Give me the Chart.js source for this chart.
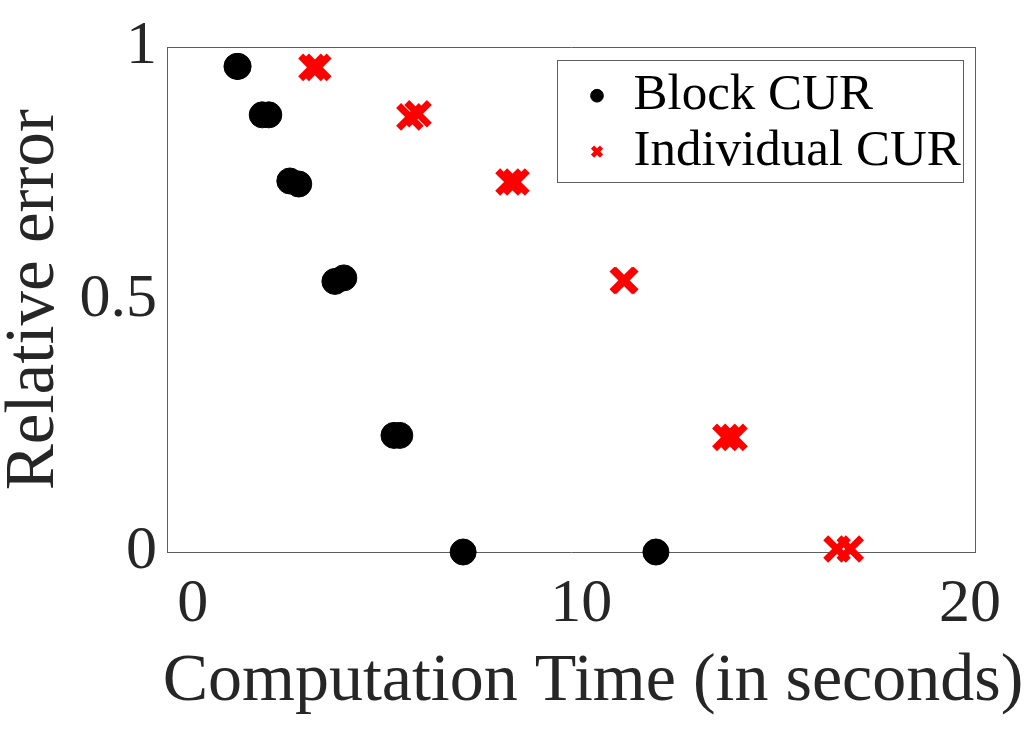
<!DOCTYPE html>
<html>
<head>
<meta charset="utf-8">
<script src="https://cdn.jsdelivr.net/npm/chart.js@4/dist/chart.umd.min.js"></script>
<style>
  html, body { margin: 0; padding: 0; background: #fff; }
  #wrap { width: 1035px; height: 733px; }
</style>
</head>
<body>
<div id="wrap"><canvas id="c" width="1035" height="733"></canvas></div>
<script>
// ---- data ----
const seriesNames = ['Block CUR', 'Individual CUR'];
const blockTime  = [1.14, 1.17, 1.79, 1.96, 2.50, 2.73, 3.66, 3.89, 5.18, 5.33, 6.96, 11.92];
const blockError = [0.962, 0.962, 0.866, 0.866, 0.735, 0.729, 0.536, 0.543, 0.231, 0.231, 0, 0];
const individualTime  = [3.07, 3.22, 5.59, 5.80, 8.14, 8.32, 11.08, 11.12, 13.72, 13.93, 16.58, 16.92];
const individualError = [0.960, 0.960, 0.862, 0.868, 0.733, 0.733, 0.538, 0.538, 0.227, 0.227, 0.006, 0.006];
const xTicks = [0, 10, 20];
const yTicks = [0, 0.5, 1];
const xTitle = 'Computation Time (in seconds)';
const yTitle = 'Relative error';

const FONT = 'Liberation Serif';
const TEXT = '#262626';
const FRAME = '#5e5e5e';

const toPts = (xs, ys) => xs.map((x, i) => ({ x: x, y: ys[i] }));

const framePlugin = {
  id: 'frameAndLegend',
  afterLayout(chart) {
    const lg = chart.legend;
    if (lg) {
      const a = chart.chartArea;
      lg.left = a.right - 394;
      lg.top = a.top + 18;
      lg.right = lg.left + lg.width;
      lg.bottom = lg.top + lg.height;
    }
  },
  afterDraw(chart) {
    const ctx = chart.ctx;
    const a = chart.chartArea;
    ctx.save();
    // legend frame
    ctx.strokeStyle = FRAME;
    ctx.lineWidth = 1;
    ctx.strokeRect(Math.round(a.right - 418) + 0.5, Math.round(a.top + 13) + 0.5, 406, 122);
    // x-axis title
    ctx.fillStyle = TEXT;
    ctx.font = '68px "' + FONT + '"';
    ctx.textAlign = 'center';
    ctx.textBaseline = 'middle';
    ctx.fillText(xTitle, (a.left + a.right) / 2 + 22, 682);
    ctx.restore();
  }
};

new Chart(document.getElementById('c'), {
  type: 'scatter',
  data: {
    datasets: [
      {
        label: seriesNames[0],
        data: toPts(blockTime, blockError),
        pointStyle: 'circle',
        pointRadius: 13,
        pointHoverRadius: 13,
        backgroundColor: '#000000',
        borderColor: '#000000',
        borderWidth: 1,
        clip: false
      },
      {
        label: seriesNames[1],
        data: toPts(individualTime, individualError),
        pointStyle: 'crossRot',
        pointRadius: 16,
        pointHoverRadius: 16,
        backgroundColor: '#ff0000',
        borderColor: '#ff0000',
        borderWidth: 7,
        clip: false
      }
    ]
  },
  options: {
    responsive: false,
    animation: false,
    events: [],
    layout: { padding: { left: 0, top: 46, right: 60, bottom: 0 } },
    plugins: {
      tooltip: { enabled: false },
      legend: {
        display: true,
        position: 'chartArea',
        align: 'start',
        labels: {
          usePointStyle: true,
          boxWidth: 22,
          boxHeight: 9,
          padding: 5,
          color: '#000000',
          font: { family: FONT, size: 51 },
          generateLabels: (chart) =>
            Chart.defaults.plugins.legend.labels.generateLabels(chart).map((l, i) =>
              Object.assign({}, l, { lineWidth: i === 1 ? 4.5 : 1 }))
        }
      }
    },
    scales: {
      x: {
        type: 'linear',
        position: 'bottom',
        min: -0.66,
        max: 20.13,
        afterBuildTicks: (s) => { s.ticks = xTicks.map(v => ({ value: v })); },
        afterFit: (s) => { s.height = 181; },
        grid: { display: false, drawTicks: false },
        border: { display: true, color: FRAME, width: 1 },
        ticks: {
          padding: 16,
          color: TEXT,
          font: { family: FONT, size: 62 },
          callback: (v) => String(v)
        },
        title: { display: false, text: xTitle }
      },
      y: {
        type: 'linear',
        position: 'left',
        min: 0,
        max: 1,
        afterBuildTicks: (s) => { s.ticks = yTicks.map(v => ({ value: v })); },
        afterFit: (s) => { s.width = 167; },
        grid: { display: false, drawTicks: false },
        border: { display: true, color: FRAME, width: 1 },
        ticks: {
          padding: 10,
          color: TEXT,
          font: { family: FONT, size: 62 },
          callback: (v) => String(v)
        },
        title: {
          display: true,
          text: yTitle,
          color: TEXT,
          font: { family: FONT, size: 69, lineHeight: 1 },
          padding: { top: 0, bottom: 0 }
        }
      },
      xTop: {
        type: 'linear',
        position: 'top',
        min: 0, max: 1,
        afterFit: (s) => { s.height = 0; },
        grid: { display: false, drawTicks: false },
        border: { display: true, color: FRAME, width: 1 },
        ticks: { display: false }
      },
      yRight: {
        type: 'linear',
        position: 'right',
        min: 0, max: 1,
        afterFit: (s) => { s.width = 0; },
        grid: { display: false, drawTicks: false },
        border: { display: true, color: FRAME, width: 1 },
        ticks: { display: false }
      }
    }
  },
  plugins: [framePlugin]
});
</script>
</body>
</html>
